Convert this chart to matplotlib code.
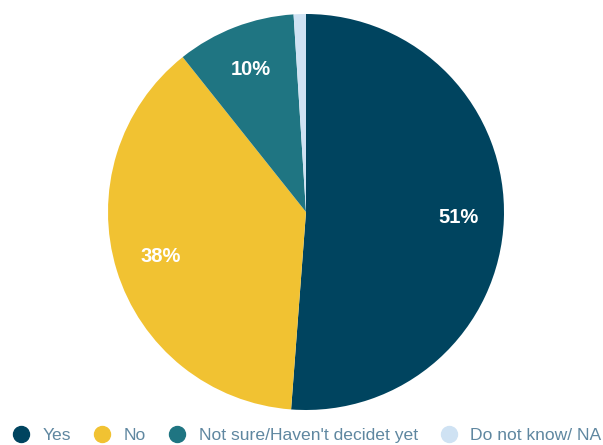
import matplotlib.pyplot as plt
from matplotlib.lines import Line2D

plt.rcParams['font.family'] = ['Liberation Sans', 'DejaVu Sans']

# Respostas e parcelas (em %)
labels = ['Yes', 'No', "Not sure/Haven't decidet yet", 'Do not know/ NA']
values = [51.2, 38.1, 9.7, 1.0]
colors = ['#00445f', '#f1c232', '#1f7582', '#cfe2f3']

fig = plt.figure(figsize=(6.03, 4.45), dpi=100)
ax = fig.add_axes([108 / 603, 35 / 445, 396 / 603, 396 / 445])


def fmt(p):
    # o 1% fica sem rótulo
    return '%d%%' % round(p) if p >= 5 else ''


wedges, texts, autotexts = ax.pie(values, colors=colors, startangle=90,
                                  counterclock=False, autopct=fmt,
                                  pctdistance=0.77, radius=1,
                                  textprops=dict(color='white', fontsize=14.5,
                                                 fontweight='bold'))
ax.set_xlim(-1, 1)
ax.set_ylim(-1, 1)
ax.set_aspect('equal')

handles = [Line2D([], [], marker='o', linestyle='', markersize=11.5,
                  markerfacecolor=c, markeredgecolor=c) for c in colors]
fig.legend(handles, labels, loc='center left', bbox_to_anchor=(0.021, 0.021),
           ncol=4, frameon=False, fontsize=12.6, handlelength=0.98,
           handletextpad=0.73, columnspacing=1.3, borderpad=0,
           borderaxespad=0, labelcolor='#5f87a0')

plt.savefig('out.png', dpi=100)
